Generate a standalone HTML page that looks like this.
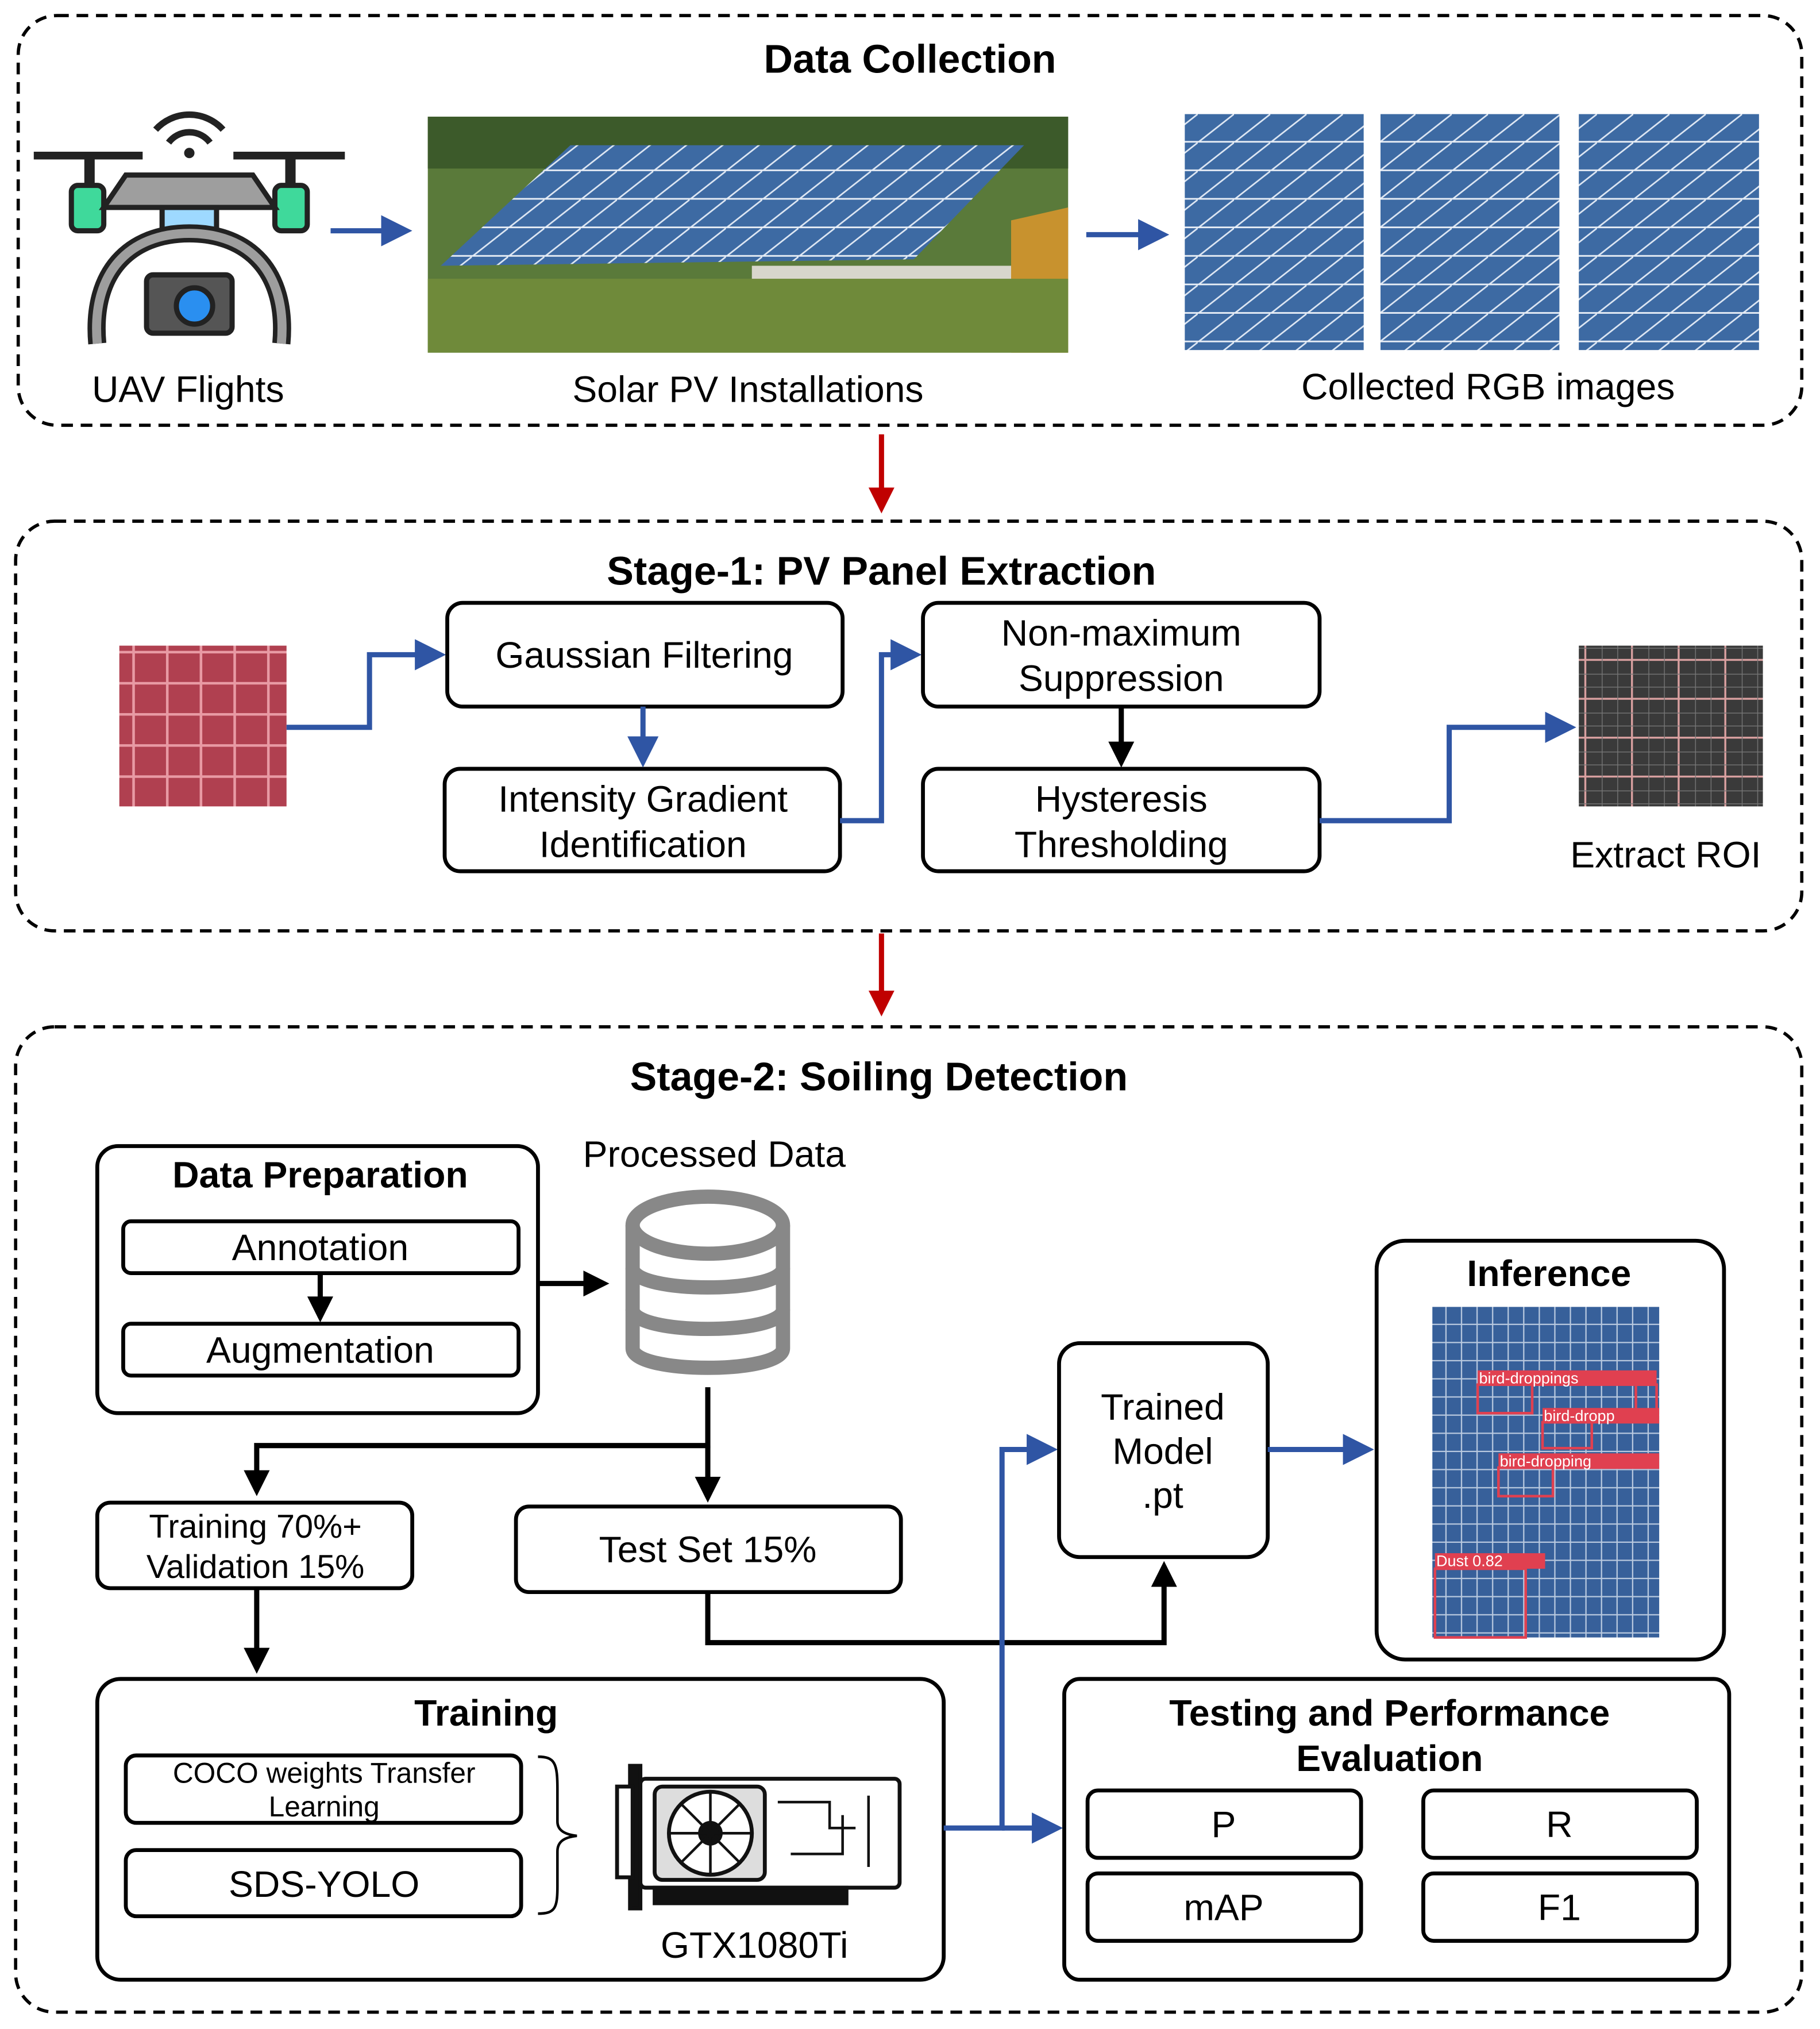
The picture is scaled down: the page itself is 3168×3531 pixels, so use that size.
<!DOCTYPE html>
<html><head><meta charset="utf-8"><style>
html,body{margin:0;padding:0;background:#fff}
svg{display:block}
text{font-family:"Liberation Sans",Arial,sans-serif;fill:#000}
.t{font-size:28.5px;text-anchor:middle}
.b{font-weight:bold;font-size:31px;text-anchor:middle}
.b2{font-weight:bold;font-size:28.5px;text-anchor:middle}
.bx{fill:#fff;stroke:#000;stroke-width:3}
.dash{fill:none;stroke:#000;stroke-width:2.5;stroke-dasharray:9 6}
.bl{fill:none;stroke:#2f55a4;stroke-width:4}
.k{fill:none;stroke:#000;stroke-width:4}
</style></head><body>
<svg width="3168" height="3531" viewBox="0 0 1404 1565" xmlns="http://www.w3.org/2000/svg">
<defs>
<marker id="ab" markerWidth="6" markerHeight="6" refX="5" refY="3" orient="auto" markerUnits="strokeWidth"><path d="M0,0L6,3L0,6z" fill="#2f55a4"/></marker>
<marker id="ak" markerWidth="5" markerHeight="5" refX="4" refY="2.5" orient="auto" markerUnits="strokeWidth"><path d="M0,0L5,2.5L0,5z" fill="#000"/></marker>
<marker id="ar" markerWidth="5" markerHeight="5" refX="4" refY="2.5" orient="auto" markerUnits="strokeWidth"><path d="M0,0L5,2.5L0,5z" fill="#c00000"/></marker>
<pattern id="pv" width="28" height="22" patternUnits="userSpaceOnUse"><rect width="28" height="22" fill="#3d6aa3"/><path d="M0,22L28,0" stroke="#dfe8f4" stroke-width="1.2"/><path d="M0,21.5H28" stroke="#e8eef6" stroke-width="1.5"/></pattern>
<pattern id="rd" width="26" height="24" patternUnits="userSpaceOnUse"><rect width="26" height="24" fill="#b04050"/><path d="M0,23H26M25,0V24" stroke="#e89aa4" stroke-width="2"/></pattern>
<pattern id="gr" width="36" height="30" patternUnits="userSpaceOnUse"><rect width="36" height="30" fill="#3a3a3a"/><path d="M0,29H36M35,0V30" stroke="#d9a0a0" stroke-width="1.5"/><path d="M0,10H36M0,20H36M12,0V30M24,0V30" stroke="#777" stroke-width="0.6"/></pattern>
<pattern id="ig" width="12" height="14" patternUnits="userSpaceOnUse"><rect width="12" height="14" fill="#37609a"/><path d="M0,13.5H12M11.5,0V14" stroke="#b9c9df" stroke-width="1"/></pattern>
</defs>

<rect x="14" y="12" width="1376" height="316" rx="30" class="dash"/>
<text x="702" y="56" class="b">Data Collection</text>
<g>
<path d="M120,100a35,35 0 0 1 52,0M130,110a20,20 0 0 1 32,0" fill="none" stroke="#222" stroke-width="5"/>
<circle cx="146" cy="118" r="4" fill="#222"/>
<path d="M26,120H110M180,120H266" stroke="#222" stroke-width="6"/>
<rect x="65" y="120" width="8" height="30" fill="#222"/><rect x="220" y="120" width="8" height="30" fill="#222"/>
<rect x="55" y="143" width="25" height="35" rx="5" fill="#3fd99b" stroke="#222" stroke-width="4"/>
<rect x="212" y="143" width="25" height="35" rx="5" fill="#3fd99b" stroke="#222" stroke-width="4"/>
<path d="M80,160H212L195,135H97z" fill="#9e9e9e" stroke="#222" stroke-width="4"/>
<rect x="125" y="160" width="42" height="20" fill="#9ed9ff" stroke="#222" stroke-width="4"/>
<path d="M75,265C70,210 100,180 146,180C192,180 222,210 217,265" fill="none" stroke="#222" stroke-width="14"/>
<path d="M75,265C70,210 100,180 146,180C192,180 222,210 217,265" fill="none" stroke="#9e9e9e" stroke-width="7"/>
<rect x="113" y="212" width="66" height="45" rx="5" fill="#555" stroke="#222" stroke-width="4"/>
<circle cx="150" cy="236" r="14" fill="#2a8ff0" stroke="#222" stroke-width="4"/>
</g>
<line x1="255" y1="178" x2="314" y2="178" class="bl" marker-end="url(#ab)"/>
<rect x="330" y="90" width="494" height="182" fill="#5a7a3a"/>
<rect x="330" y="90" width="494" height="40" fill="#3c5a2a"/>
<path d="M340,205L440,112H790L705,200z" fill="url(#pv)"/>
<path d="M580,205H790V250H580z" fill="#d8d6cc"/>
<path d="M780,170L824,160V272H780z" fill="#c8922e"/>
<rect x="330" y="215" width="494" height="57" fill="#6f8a3a"/>
<line x1="838" y1="181" x2="898" y2="181" class="bl" marker-end="url(#ab)"/>
<rect x="914" y="88" width="138" height="182" fill="url(#pv)"/>
<rect x="1065" y="88" width="138" height="182" fill="url(#pv)"/>
<rect x="1218" y="88" width="139" height="182" fill="url(#pv)"/>
<text x="145" y="310" class="t">UAV Flights</text>
<text x="577" y="310" class="t">Solar PV Installations</text>
<text x="1148" y="308" class="t">Collected RGB images</text>

<line x1="680" y1="335" x2="680" y2="392" stroke="#c00000" stroke-width="4" marker-end="url(#ar)"/>

<rect x="12" y="402" width="1378" height="316" rx="30" class="dash"/>
<text x="680" y="451" class="b">Stage-1: PV Panel Extraction</text>
<rect x="92" y="498" width="129" height="124" fill="url(#rd)"/>
<path d="M221,561H285V505H340" class="bl" marker-end="url(#ab)"/>
<rect x="345" y="465" width="305" height="80" rx="12" class="bx"/>
<text x="497" y="515" class="t">Gaussian Filtering</text>
<rect x="343" y="593" width="305" height="79" rx="12" class="bx"/>
<text x="496" y="626" class="t">Intensity Gradient</text><text x="496" y="661" class="t">Identification</text>
<line x1="496" y1="545" x2="496" y2="588" class="bl" marker-end="url(#ab)"/>
<path d="M648,633H680V505H707" class="bl" marker-end="url(#ab)"/>
<rect x="712" y="465" width="306" height="80" rx="12" class="bx"/>
<text x="865" y="498" class="t">Non-maximum</text><text x="865" y="533" class="t">Suppression</text>
<rect x="712" y="593" width="306" height="79" rx="12" class="bx"/>
<text x="865" y="626" class="t">Hysteresis</text><text x="865" y="661" class="t">Thresholding</text>
<line x1="865" y1="545" x2="865" y2="588" class="k" marker-end="url(#ak)"/>
<path d="M1018,633H1118V561H1212" class="bl" marker-end="url(#ab)"/>
<rect x="1218" y="498" width="142" height="124" fill="url(#gr)"/>
<text x="1285" y="669" class="t">Extract ROI</text>

<line x1="680" y1="720" x2="680" y2="780" stroke="#c00000" stroke-width="4" marker-end="url(#ar)"/>

<rect x="12" y="792" width="1378" height="760" rx="30" class="dash"/>
<text x="678" y="841" class="b">Stage-2: Soiling Detection</text>

<rect x="75" y="884" width="340" height="206" rx="16" class="bx"/>
<text x="247" y="916" class="b2">Data Preparation</text>
<rect x="95" y="942" width="305" height="40" rx="6" class="bx"/>
<text x="247" y="972" class="t">Annotation</text>
<rect x="95" y="1021" width="305" height="40" rx="6" class="bx"/>
<text x="247" y="1051" class="t">Augmentation</text>
<line x1="247" y1="982" x2="247" y2="1016" class="k" marker-end="url(#ak)"/>
<line x1="415" y1="990" x2="466" y2="990" class="k" marker-end="url(#ak)"/>

<text x="551" y="900" class="t">Processed Data</text>
<g fill="none" stroke="#888" stroke-width="11">
<ellipse cx="546" cy="945" rx="58" ry="22"/>
<path d="M488,945V1040C488,1060 604,1060 604,1040V945"/>
<path d="M488,978C488,998 604,998 604,978M488,1010C488,1030 604,1030 604,1010"/>
</g>
<path d="M546,1070V1115H198V1150" class="k" marker-end="url(#ak)"/>
<line x1="546" y1="1115" x2="546" y2="1155" class="k" marker-end="url(#ak)"/>

<rect x="75" y="1159" width="243" height="66" rx="10" class="bx"/>
<text x="197" y="1186" class="t" style="font-size:25.5px">Training 70%+</text><text x="197" y="1217" class="t" style="font-size:25.5px">Validation 15%</text>
<rect x="398" y="1162" width="297" height="66" rx="10" class="bx"/>
<text x="546" y="1205" class="t">Test Set 15%</text>
<line x1="198" y1="1225" x2="198" y2="1287" class="k" marker-end="url(#ak)"/>
<path d="M546,1228V1267H898V1208" class="k" marker-end="url(#ak)"/>

<rect x="75" y="1295" width="653" height="232" rx="18" class="bx"/>
<text x="375" y="1331" class="b2">Training</text>
<rect x="97" y="1354" width="305" height="52" rx="8" class="bx"/>
<text x="250" y="1375" class="t" style="font-size:22px">COCO weights Transfer</text>
<text x="250" y="1401" class="t" style="font-size:22px">Learning</text>
<rect x="97" y="1427" width="305" height="51" rx="8" class="bx"/>
<text x="250" y="1463" class="t">SDS-YOLO</text>
<path d="M415,1355C428,1355 430,1360 430,1380V1405C430,1412 436,1415 445,1416C436,1417 430,1420 430,1428V1455C430,1472 428,1476 415,1476" fill="none" stroke="#000" stroke-width="2"/>
<g stroke="#111" stroke-width="3" fill="#fff">
<rect x="486" y="1362" width="8" height="110" fill="#111"/>
<rect x="476" y="1378" width="12" height="70" fill="#fff"/>
<rect x="494" y="1372" width="200" height="84" rx="4"/>
<rect x="505" y="1378" width="85" height="72" rx="6" fill="#ddd"/>
<circle cx="548" cy="1414" r="32" fill="#fff"/>
<circle cx="548" cy="1414" r="8" fill="#111"/>
<path d="M548,1382L548,1446M516,1414H580M525,1391L571,1437M571,1391L525,1437" stroke-width="2"/>
<path d="M600,1390H640V1410H660M610,1430H650V1400M670,1385V1440" fill="none" stroke-width="2"/>
<rect x="505" y="1456" width="148" height="12" fill="#111"/>
</g>
<text x="582" y="1510" class="t">GTX1080Ti</text>

<path d="M728,1410H773V1118H812" class="bl" marker-end="url(#ab)"/>
<line x1="773" y1="1410" x2="816" y2="1410" class="bl" marker-end="url(#ab)"/>

<rect x="817" y="1036" width="161" height="165" rx="16" class="bx"/>
<text x="897" y="1095" class="t">Trained</text><text x="897" y="1129" class="t">Model</text><text x="897" y="1163" class="t">.pt</text>
<line x1="978" y1="1118" x2="1056" y2="1118" class="bl" marker-end="url(#ab)"/>

<rect x="1062" y="957" width="268" height="323" rx="22" class="bx"/>
<text x="1195" y="992" class="b2">Inference</text>
<rect x="1105" y="1008" width="175" height="255" fill="url(#ig)"/>
<g fill="none" stroke="#e04050" stroke-width="2">
<rect x="1140" y="1068" width="42" height="22"/><rect x="1190" y="1097" width="38" height="20"/>
<rect x="1156" y="1132" width="42" height="22"/><rect x="1107" y="1210" width="70" height="53"/>
<rect x="1262" y="1068" width="16" height="22"/>
</g>
<g fill="#e04050"><rect x="1140" y="1057" width="138" height="12"/><rect x="1190" y="1086" width="90" height="12"/><rect x="1156" y="1121" width="124" height="12"/><rect x="1107" y="1198" width="85" height="12"/></g>
<g style="font-size:12px"><text x="1141" y="1067" style="fill:#fff">bird-droppings</text><text x="1191" y="1096" style="fill:#fff">bird-dropp</text><text x="1157" y="1131" style="fill:#fff">bird-dropping</text><text x="1108" y="1208" style="fill:#fff">Dust 0.82</text></g>

<rect x="821" y="1295" width="513" height="232" rx="12" class="bx"/>
<text x="1072" y="1331" class="b2">Testing and Performance</text>
<text x="1072" y="1366" class="b2">Evaluation</text>
<rect x="839" y="1381" width="211" height="52" rx="8" class="bx"/><text x="944" y="1417" class="t">P</text>
<rect x="1098" y="1381" width="211" height="52" rx="8" class="bx"/><text x="1203" y="1417" class="t">R</text>
<rect x="839" y="1445" width="211" height="52" rx="8" class="bx"/><text x="944" y="1481" class="t">mAP</text>
<rect x="1098" y="1445" width="211" height="52" rx="8" class="bx"/><text x="1203" y="1481" class="t">F1</text>
</svg>
</body></html>
